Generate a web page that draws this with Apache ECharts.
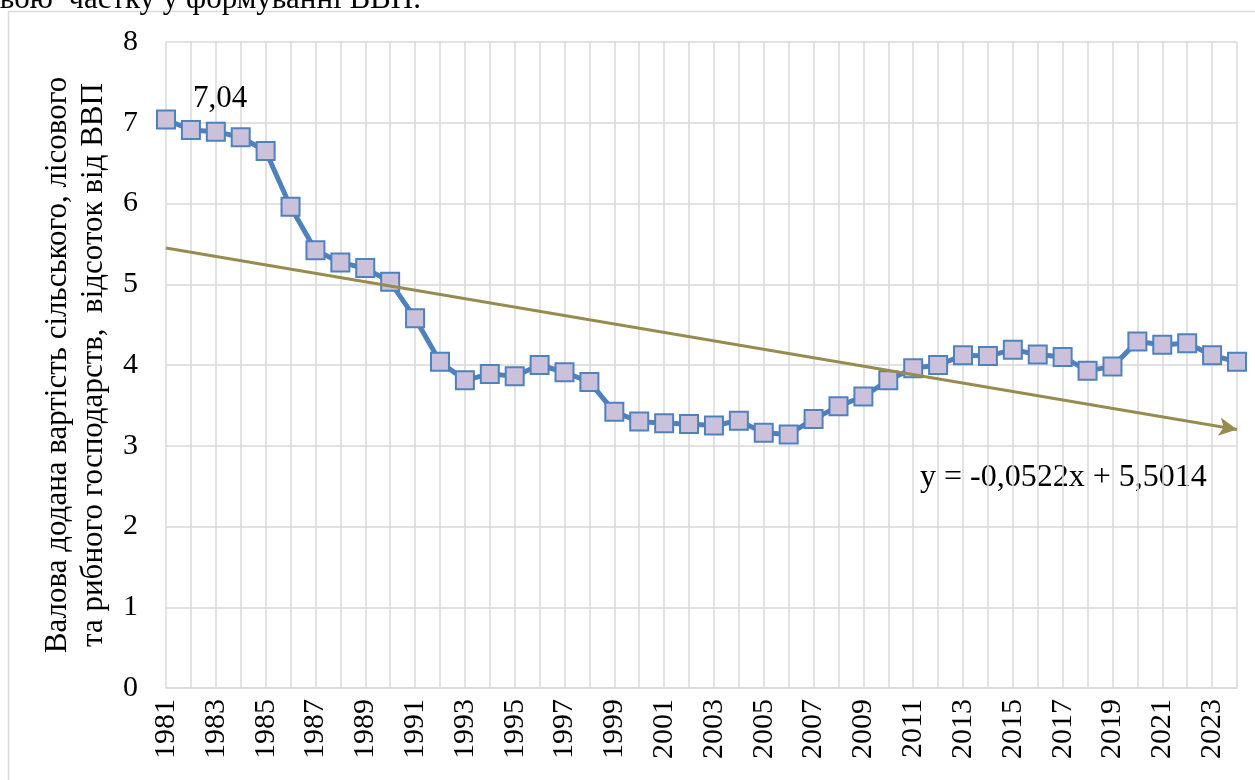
<!DOCTYPE html>
<html>
<head>
<meta charset="utf-8">
<script src="https://cdn.jsdelivr.net/npm/echarts@6/dist/echarts.min.js"></script>
<style>
  html, body { margin: 0; padding: 0; background: #fff; }
  #chart { width: 1255px; height: 780px; }
</style>
</head>
<body>
<div id="chart"></div>
<script>
const years = ['1981', '1982', '1983', '1984', '1985', '1986', '1987', '1988', '1989', '1990',
  '1991', '1992', '1993', '1994', '1995', '1996', '1997', '1998', '1999', '2000',
  '2001', '2002', '2003', '2004', '2005', '2006', '2007', '2008', '2009', '2010',
  '2011', '2012', '2013', '2014', '2015', '2016', '2017', '2018', '2019', '2020',
  '2021', '2022', '2023', '2024'];

const shareGdp = [7.04, 6.91, 6.89, 6.82, 6.65, 5.96, 5.42, 5.27, 5.20, 5.03,
  4.58, 4.04, 3.81, 3.89, 3.86, 4.00, 3.91, 3.79, 3.42, 3.30,
  3.28, 3.27, 3.25, 3.31, 3.16, 3.14, 3.33, 3.49, 3.61, 3.81,
  3.96, 4.00, 4.12, 4.11, 4.19, 4.13, 4.10, 3.93, 3.98, 4.29,
  4.25, 4.27, 4.12, 4.04];

// кінці лінії тренду
const trendEnds = [5.45, 3.20];
const trendLabel = 'y = -0,0522x + 5,5014';
const yTicks = { min: 0, max: 8, interval: 1 };

const font = '"Liberation Serif", "DejaVu Serif", serif';
const chart = echarts.init(document.getElementById('chart'));

chart.setOption({
  animation: false,
  textStyle: { fontFamily: font },
  grid: { left: 166, right: 18, top: 42, bottom: 92, outerBoundsMode: 'none' },
  xAxis: {
    type: 'category',
    data: years,
    boundaryGap: false,
    axisLine: { lineStyle: { color: '#d9d9d9', width: 1.5 } },
    axisTick: { show: false },
    axisLabel: {
      interval: 1,
      rotate: 90,
      margin: 11,
      color: '#000',
      fontSize: 30,
      fontFamily: font,
      formatter: '{y|{value}}',
      rich: { y: { fontSize: 30, fontFamily: font, color: '#000' } }
    },
    splitLine: { show: true, interval: 0, lineStyle: { color: '#d9d9d9', width: 1.5 } }
  },
  yAxis: {
    type: 'value',
    min: yTicks.min,
    max: yTicks.max,
    interval: yTicks.interval,
    name: 'Валова додана вартість сільського, лісового\nта рибного господарств,  відсоток від ВВП',
    nameLocation: 'middle',
    nameGap: 54,
    nameTextStyle: { color: '#000', fontSize: 31, fontFamily: font, lineHeight: 36 },
    axisLine: { show: false },
    axisTick: { show: false },
    axisLabel: { color: '#000', fontSize: 30, margin: 28, fontFamily: font },
    splitLine: { lineStyle: { color: '#d9d9d9', width: 1.5 } }
  },
  series: [
    {
      type: 'line',
      data: shareGdp,
      symbol: 'rect',
      symbolSize: 18,
      showAllSymbol: true,
      lineStyle: { color: '#4f81bd', width: 5 },
      itemStyle: { color: '#ccc1da', borderColor: '#4f81bd', borderWidth: 2 },
      label: {
        show: true,
        position: 'top',
        offset: [54, 10],
        color: '#000',
        fontSize: 31,
        fontFamily: font,
        formatter: p => (p.dataIndex === 0 ? String(p.value).replace('.', ',') : '')
      },
      z: 3
    },
    {
      type: 'line',
      data: [],
      z: 2,
      markLine: {
        silent: true,
        symbol: ['none', 'arrow'],
        symbolSize: [14, 18],
        label: { show: false },
        lineStyle: { color: '#968c50', width: 3, type: 'solid' },
        data: [[
          { coord: [years[0], trendEnds[0]] },
          { coord: [years[years.length - 1], trendEnds[1]] }
        ]]
      }
    }
  ],
  graphic: [
    {
      type: 'rect',
      shape: { x: 8.5, y: 11.5, width: 1260, height: 800 },
      style: { fill: 'none', stroke: '#d9d9d9', lineWidth: 1.5 },
      silent: true
    },
    {
      type: 'text',
      left: 920,
      top: 462,
      style: { text: trendLabel, fill: '#000', font: '32px ' + font }
    },
    {
      type: 'text',
      x: -14,
      y: -16,
      style: { text: 'свою  частку у формуванні ВВП.', fill: '#000', font: '31px ' + font }
    }
  ]
});
</script>
</body>
</html>
